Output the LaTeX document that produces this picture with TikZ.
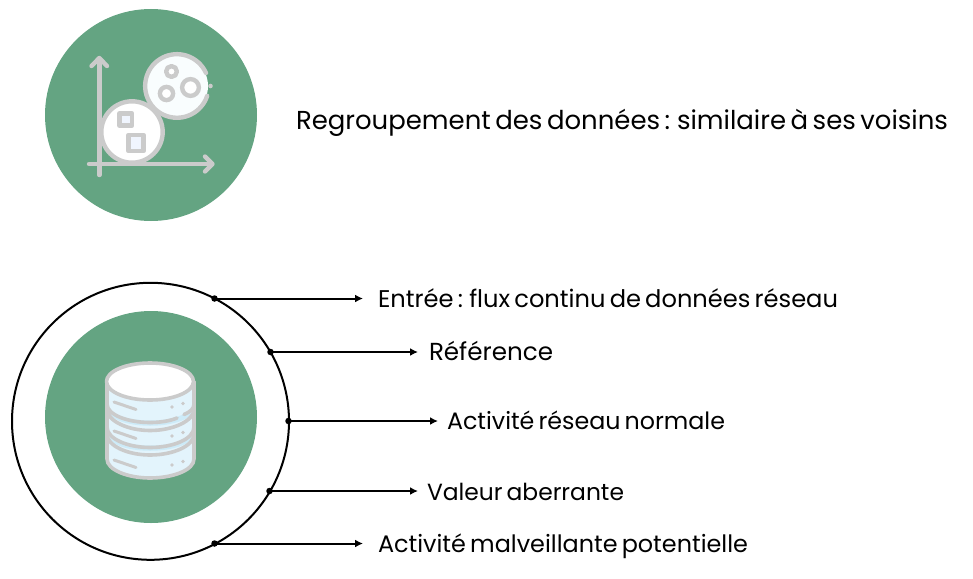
\documentclass[tikz,border=0pt]{standalone}
\usepackage{fontspec}
\setmainfont[WordSpace=0.65]{Poppins}
\usetikzlibrary{arrows.meta}
\definecolor{gr}{HTML}{64A482}
\definecolor{ic}{HTML}{CBCBCB}
\definecolor{lb}{HTML}{E3F4FC}
\definecolor{lb2}{HTML}{CDEBF8}
\definecolor{ws}{HTML}{F0F5FE}
\definecolor{wb}{HTML}{F9FDFE}
\newcommand{\lab}[5]{\node[lbl] (#1) at (#2,#3) {\resizebox{#4pt}{!}{#5}};}
\tikzset{
 x=1pt,y=-1pt,
 disc/.style={circle,fill=gr,draw=none,minimum size=212pt,inner sep=0pt},
 stk/.style={draw=ic,line width=4.4pt,line cap=round,line join=round},
 stkb/.style={draw=ic,line width=3.6pt,line cap=round,line join=round},
 dotn/.style={circle,fill=black,draw=none,minimum size=6.5pt,inner sep=0pt},
 conn/.style={draw=black,line width=2pt,-{Latex[length=8pt,width=8pt]}},
 lbl/.style={anchor=base west,inner sep=0pt,outer sep=0pt,text=black,font=\fontsize{23}{27}\selectfont},
 ring/.style={circle,draw=black,line width=2pt,minimum size=277pt,inner sep=0pt}
}
\begin{document}
\begin{tikzpicture}
\useasboundingbox (0,0) rectangle (973,578);
% top disc and chart icon
\node[disc] (top) at (151,115) {};
\draw[stk] (99.3,59) -- (99.3,175);
\draw[stk] (91.5,66) -- (99.3,58) -- (107,66);
\draw[stk] (89,164) -- (211,164);
\draw[stk] (205,156.5) -- (212.5,164) -- (205,171.5);
\draw[stk,fill=white] (132,132) circle (30.7);
\fill[wb] (177,86) circle (31);
\draw[stk] (207.2,95.8) arc (18:336:31.8);
\fill[ic] (210.5,86) circle (2.3);
\draw[stk,fill=ws] (119.5,113.5) rectangle (132,125.5);
\draw[stk,fill=ws] (128.5,135) rectangle (143.5,151);
\draw[stk,fill=white] (171.5,71.5) circle (5.4);
\draw[stk,fill=white] (166.5,93.5) circle (6.6);
\draw[stk,fill=white] (190.5,87.5) circle (8.4);
\lab{title}{296}{129}{652}{Regroupement des données : similaire à ses voisins}
% lower disc and database icon
\node[ring] (outer) at (150.5,421.3) {};
\node[disc] (bottom) at (151,417) {};
\path[fill=lb,stkb] (107,381.5) -- (107,459) .. controls (107,470) and (128,478) .. (150,478) .. controls (173,478) and (194,470) .. (194,459) -- (194,381.5) -- cycle;
\path[fill=lb2] (108,407) .. controls (120,425) and (180,425) .. (193,407) -- (193,413) .. controls (180,430) and (120,430) .. (108,413) -- cycle;
\path[fill=lb2] (108,432) .. controls (120,450) and (180,450) .. (193,432) -- (193,438) .. controls (180,455) and (120,455) .. (108,438) -- cycle;
\draw[stkb] (107,404) .. controls (107,415) and (128,422.5) .. (150,422.5) .. controls (160,422.5) and (170,421) .. (177,418);
\draw[stkb] (184,414.5) .. controls (190,412) and (194,409) .. (194,404);
\draw[stkb] (107,427) .. controls (107,439) and (128,447.5) .. (150,447.5) .. controls (173,447.5) and (194,439) .. (194,427);
\draw[stkb] (107,409) .. controls (107,421) and (128,430.5) .. (150,430.5) .. controls (173,430.5) and (194,421) .. (194,409);
\draw[stkb] (107,434) .. controls (107,446) and (128,455) .. (150,455) .. controls (173,455) and (194,446) .. (194,434);
\draw[stkb,fill=white] (150,381.5) ellipse (43.5 and 18.5);
\foreach \yy in {0,29,58}{
  \draw[stkb,line width=3pt] (114,402+\yy) -- (136,409.5+\yy);
  \fill[ic] (172,407+\yy) circle (1.9);
  \fill[ic] (183,403.5+\yy) circle (1.9);
}
% connectors
\node[dotn] (d1) at (214.5,298.5) {};
\node[dotn] (d2) at (270.5,352) {};
\node[dotn] (d3) at (288.5,421) {};
\node[dotn] (d4) at (269.5,491) {};
\node[dotn] (d5) at (214.5,543.5) {};
\coordinate (e1) at (363,298.5);
\coordinate (e2) at (418,352);
\coordinate (e3) at (438,421);
\coordinate (e4) at (418,491);
\coordinate (e5) at (363,543.5);
\foreach \i in {1,...,5}{\draw[conn] (d\i.center) -- (e\i);}
\lab{l1}{378}{307}{460}{Entrée : flux continu de données réseau}
\lab{l2}{429}{360}{124}{Référence}
\lab{l3}{447}{429}{278}{Activité réseau normale}
\lab{l4}{427}{500}{197}{Valeur aberrante}
\lab{l5}{378}{552}{370}{Activité malveillante potentielle}
\end{tikzpicture}
\end{document}
